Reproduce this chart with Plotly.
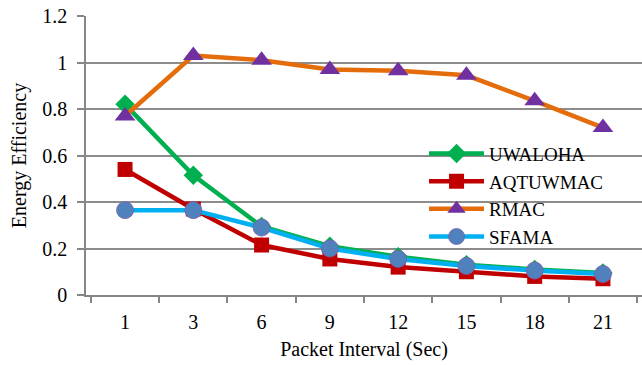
import plotly.graph_objects as go

categories = ["1", "3", "6", "9", "12", "15", "18", "21"]
uwaloha = [0.82, 0.515, 0.295, 0.21, 0.165, 0.13, 0.11, 0.095]
aqtuwmac = [0.54, 0.37, 0.215, 0.155, 0.12, 0.10, 0.08, 0.07]
rmac = [0.77, 1.03, 1.01, 0.97, 0.965, 0.945, 0.835, 0.72]
sfama = [0.365, 0.365, 0.29, 0.20, 0.155, 0.125, 0.105, 0.09]
y_ticks = [0, 0.2, 0.4, 0.6, 0.8, 1.0, 1.2]
y_tick_text = ["0", "0.2", "0.4", "0.6", "0.8", "1", "1.2"]

fig = go.Figure()
fig.add_trace(go.Scatter(x=categories, y=uwaloha, name="UWALOHA", mode="lines+markers",
                         line=dict(color="#00B050", width=4.5),
                         marker=dict(symbol="diamond", size=15, color="#00B050")))
fig.add_trace(go.Scatter(x=categories, y=aqtuwmac, name="AQTUWMAC", mode="lines+markers",
                         line=dict(color="#C00000", width=4.5),
                         marker=dict(symbol="square", size=15, color="#C00000")))
fig.add_trace(go.Scatter(x=categories, y=rmac, name="RMAC", mode="lines+markers",
                         line=dict(color="#E46C0A", width=4.5),
                         marker=dict(symbol="triangle-up", size=18, color="#7030A0")))
fig.add_trace(go.Scatter(x=categories, y=sfama, name="SFAMA", mode="lines+markers",
                         line=dict(color="#00B0F0", width=4.5),
                         marker=dict(symbol="circle", size=17, color="#4F81BD",
                                     line=dict(color="#7A5FA8", width=0.8))))

font = "Liberation Serif"
fig.update_layout(
    width=642, height=365,
    margin=dict(l=86, r=0, t=16, b=70),
    paper_bgcolor="white", plot_bgcolor="white",
    font=dict(family=font, size=20, color="black"),
    showlegend=True,
    legend=dict(x=0.608, y=0.575, xanchor="left", yanchor="top",
                bgcolor="rgba(0,0,0,0)", font=dict(size=19, family=font, color="black"),
                tracegroupgap=0, itemwidth=55),
    xaxis=dict(type="category", showline=True, linecolor="#868686", linewidth=1.5,
               ticks="outside", tickson="boundaries", ticklen=6, tickcolor="#868686",
               tickwidth=1.5, showgrid=False, ticklabelstandoff=8,
               title=dict(text="Packet Interval (Sec)", font=dict(size=20, family=font), standoff=10),
               tickfont=dict(size=20, family=font, color="black")),
    yaxis=dict(range=[0, 1.2], tickvals=y_ticks, ticktext=y_tick_text,
               showline=True, linecolor="#868686", linewidth=1.5,
               ticks="outside", ticklen=7, tickcolor="#868686", tickwidth=1.5,
               showgrid=True, gridcolor="#8C8C8C", gridwidth=1.5, zeroline=False,
               ticklabelstandoff=6,
               title=dict(text="Energy Efficiency", font=dict(size=20, family=font), standoff=10),
               tickfont=dict(size=20, family=font, color="black")),
)

fig.write_html("out.html")
